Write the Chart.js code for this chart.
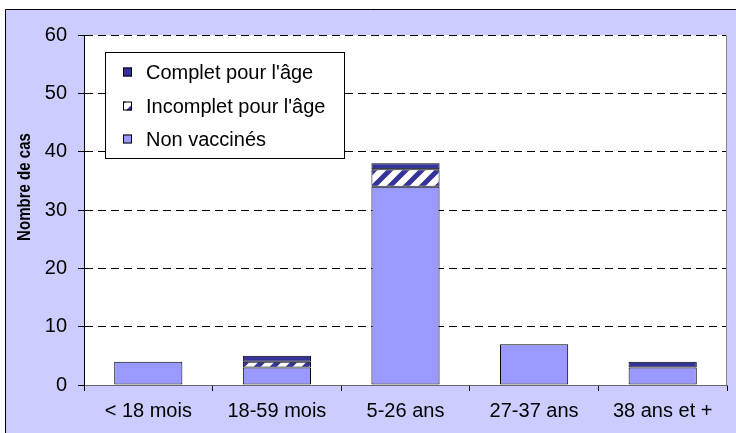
<!DOCTYPE html>
<html lang="fr">
<head>
    <meta charset="UTF-8">
    <title>Nombre de cas par classe d'âge</title>
    <!-- Chart.js -->
    <script src="https://cdn.jsdelivr.net/npm/chart.js"></script>
    <style>
        body {
            margin: 0;
            background-color: #fff;
        }
        .chart-container {
            position: relative;
            width: 736px;
            height: 433px;
        }
    </style>
</head>
<body>
    <div class="chart-container">
        <canvas id="casChart" width="736" height="433"></canvas>
    </div>

    <script>
        // data
        const categories = ['< 18 mois', '18-59 mois', '5-26 ans', '27-37 ans', '38 ans et +'];
        const nonVaccines = [4, 3, 34, 7, 3];
        const incomplet = [0, 1, 3, 0, 0];
        const complet = [0, 1, 1, 0, 1];
        const yMax = 60;
        const yStep = 10;
        const yTitle = 'Nombre de cas';

        const lavender = '#ccccff';
        const navy = '#333399';
        const lightBlue = '#9999ff';
        const font = 'Arial, "Liberation Sans", sans-serif';

        // diagonal stripes for "Incomplet"
        function makeHatch() {
            const s = 16;
            const c = document.createElement('canvas');
            c.width = s;
            c.height = s;
            const g = c.getContext('2d');
            g.fillStyle = '#fff';
            g.fillRect(0, 0, s, s);
            g.strokeStyle = navy;
            g.lineWidth = 5;
            g.beginPath();
            g.moveTo(0, s); g.lineTo(s, 0);
            g.moveTo(-4, 4); g.lineTo(4, -4);
            g.moveTo(s - 4, s + 4); g.lineTo(s + 4, s - 4);
            g.stroke();
            return g.createPattern(c, 'repeat');
        }
        const hatch = makeHatch();

        // lavender frame, white plot area, y title
        const framePlugin = {
            id: 'frame',
            beforeDraw(chart) {
                const ctx = chart.ctx;
                const a = chart.chartArea;
                ctx.save();
                ctx.fillStyle = lavender;
                ctx.fillRect(6, 9, chart.width - 6, chart.height - 9);
                ctx.strokeStyle = '#000';
                ctx.lineWidth = 1;
                ctx.beginPath();
                ctx.moveTo(5.5, chart.height);
                ctx.lineTo(5.5, 9.5);
                ctx.lineTo(chart.width, 9.5);
                ctx.stroke();
                ctx.fillStyle = '#fff';
                ctx.fillRect(a.left, a.top, a.right - a.left, a.bottom - a.top);

                ctx.translate(25, 187);
                ctx.rotate(-Math.PI / 2);
                ctx.scale(0.97, 1.15);
                ctx.fillStyle = '#000';
                ctx.font = 'bold 15.5px ' + font;
                ctx.textAlign = 'center';
                ctx.textBaseline = 'middle';
                ctx.fillText(yTitle, 0, 0);
                ctx.restore();
            },
            afterDraw(chart) {
                const ctx = chart.ctx;
                const a = chart.chartArea;
                ctx.save();
                // right edge of the plot
                ctx.strokeStyle = '#888';
                ctx.lineWidth = 1;
                ctx.beginPath();
                ctx.moveTo(Math.round(a.right) - 0.5, a.top);
                ctx.lineTo(Math.round(a.right) - 0.5, a.bottom);
                ctx.stroke();

                // legend box inside the plot, top left
                const box = { x: 105.5, y: 52.5, w: 239, h: 106 };
                ctx.fillStyle = '#fff';
                ctx.fillRect(box.x, box.y, box.w, box.h);
                ctx.strokeStyle = '#000';
                ctx.strokeRect(box.x, box.y, box.w, box.h);

                const order = [2, 1, 0];
                const rows = [72, 106, 139];
                ctx.font = '20px ' + font;
                ctx.textBaseline = 'middle';
                order.forEach((di, i) => {
                    const ds = chart.data.datasets[di];
                    ctx.fillStyle = ds.backgroundColor;
                    ctx.fillRect(123, rows[i] - 4.5, 9, 9);
                    ctx.strokeStyle = '#000';
                    ctx.strokeRect(123.5, rows[i] - 4, 8, 8);
                    ctx.fillStyle = '#000';
                    ctx.fillText(ds.label, 146, rows[i] + 1);
                });
                ctx.restore();
            }
        };

        const ctx = document.getElementById('casChart').getContext('2d');
        new Chart(ctx, {
            type: 'bar',
            data: {
                labels: categories,
                datasets: [
                    {
                        label: 'Non vaccinés',
                        data: nonVaccines,
                        backgroundColor: lightBlue
                    },
                    {
                        label: "Incomplet pour l'âge",
                        data: incomplet,
                        backgroundColor: hatch
                    },
                    {
                        label: "Complet pour l'âge",
                        data: complet,
                        backgroundColor: navy
                    }
                ]
            },
            options: {
                responsive: false,
                animation: false,
                layout: {
                    padding: { top: 35, right: 9, left: 0, bottom: 0 }
                },
                datasets: {
                    bar: {
                        borderColor: '#000',
                        borderWidth: 1,
                        borderSkipped: false,
                        barPercentage: 0.53,
                        categoryPercentage: 1
                    }
                },
                plugins: {
                    legend: { display: false },
                    tooltip: { enabled: false }
                },
                scales: {
                    x: {
                        stacked: true,
                        grid: {
                            drawOnChartArea: false,
                            drawTicks: true,
                            tickLength: 6,
                            tickColor: '#000'
                        },
                        border: { color: '#666' },
                        ticks: {
                            color: '#000',
                            padding: 8,
                            maxRotation: 0,
                            font: { family: font, size: 20 }
                        },
                        afterFit(scale) { scale.height = 48; }
                    },
                    y: {
                        stacked: true,
                        min: 0,
                        max: yMax,
                        grid: {
                            color: c => c.tick && c.tick.value === 0 ? 'rgba(0,0,0,0)' : '#000',
                            tickColor: '#000',
                            tickLength: 6,
                            tickBorderDash: []
                        },
                        border: { color: '#000', dash: [8, 5] },
                        ticks: {
                            stepSize: yStep,
                            color: '#000',
                            padding: 11,
                            font: { family: font, size: 20 }
                        },
                        afterFit(scale) { scale.width = 84; }
                    }
                }
            },
            plugins: [framePlugin]
        });
    </script>
</body>
</html>
